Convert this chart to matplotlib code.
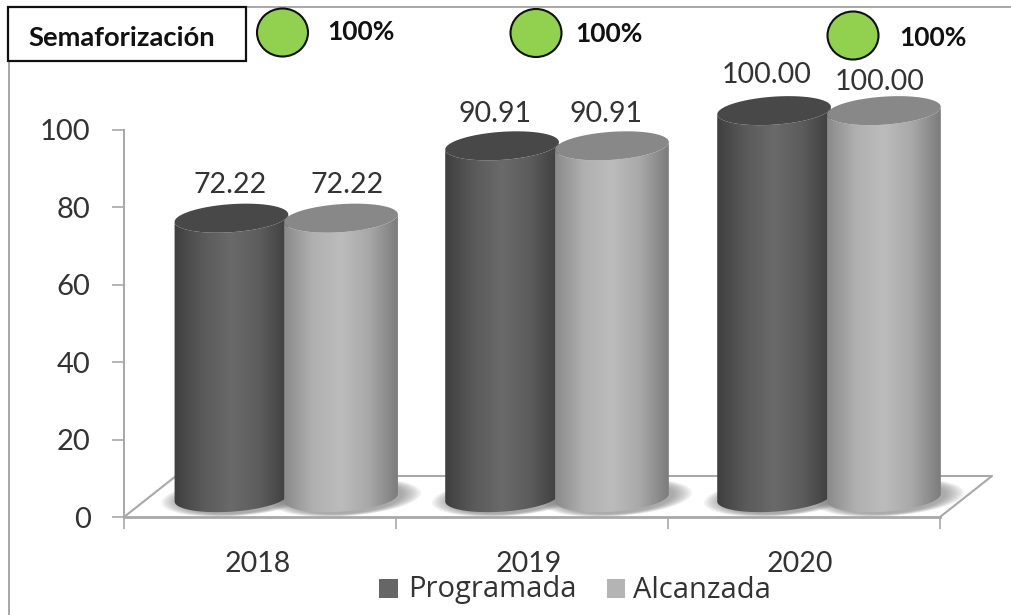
import numpy as np
import matplotlib
matplotlib.use("Agg")
import matplotlib.pyplot as plt
from matplotlib.patches import Ellipse, PathPatch, Rectangle
from matplotlib.path import Path
from matplotlib.transforms import ScaledTranslation, Affine2D
from matplotlib.colors import LinearSegmentedColormap

years = ["2018", "2019", "2020"]
series_names = ["Programada", "Alcanzada"]
programada = [72.22, 90.91, 100.00]
alcanzada = [72.22, 90.91, 100.00]
semaforo = ["100%", "100%", "100%"]
y_ticks = [0, 20, 40, 60, 80, 100]

W, H, DPI = 1011, 615, 100
fig = plt.figure(figsize=(W / DPI, H / DPI), dpi=DPI, facecolor="white")
plt.rcParams["font.family"] = ["Lato", "DejaVu Sans"]

L, R, T, B = 124, 940, 130, 517
ax = fig.add_axes([L / W, 1 - B / H, (R - L) / W, (B - T) / H])
ax.set_xlim(0, 3)
ax.set_ylim(0, 100)
ax.patch.set_alpha(0)
for s in ("top", "right"):
    ax.spines[s].set_visible(False)
ax.spines["left"].set_color("#a8a8a8")
ax.spines["left"].set_linewidth(1.4)
ax.spines["bottom"].set_color("#a8a8a8")
ax.spines["bottom"].set_linewidth(2)
ax.set_yticks(y_ticks)
ax.set_xticks([0, 1, 2, 3])
ax.set_xticklabels([])
ax.tick_params(axis="y", length=8.6, width=1.1, color="#a0a0a0", labelsize=21,
               labelcolor="#333333", pad=15.5)
ax.tick_params(axis="x", length=8.6, width=1.1, color="#a0a0a0")

# full-figure pixel overlay for decoration
ov = fig.add_axes([0, 0, 1, 1], zorder=-1)
ov.set_xlim(0, W)
ov.set_ylim(H, 0)
ov.axis("off")
ov.plot([8.5, 8.5, 1011], [H, 6.5, 6.5], color="#a0a0a0", lw=1.3)
ov.plot([124, 176, 992, 940], [517, 476, 476, 517], color="#a8a8a8", lw=1.5)

top = fig.add_axes([0, 0, 1, 1], zorder=5)
top.set_xlim(0, W)
top.set_ylim(H, 0)
top.axis("off")
top.add_patch(Rectangle((8, 7), 238, 53.5, fc="white", ec="#101010", lw=1.6))
top.text(28, 37.5, "Semaforización", fontsize=19.7, fontweight="bold", color="#111111",
         va="center", ha="left")
for cx, cy, tx, ty, lab in zip([282.5, 536, 853], [32.5, 33, 35.5], [327, 575, 899], [31.5, 34.5, 38.5], semaforo):
    top.add_patch(Ellipse((cx, cy), 51, 48, fc="#92d050", ec="#101010", lw=1.5))
    top.text(tx, ty, lab, fontsize=19, fontweight="bold", color="#111111", va="center", ha="left")

dark = LinearSegmentedColormap.from_list("d", ["#3f3f3f", "#5a5a5a", "#6a6a6a", "#5c5c5c", "#3e3e3e"])
light = LinearSegmentedColormap.from_list("l", ["#8a8a8a", "#b0b0b0", "#bcbcbc", "#a8a8a8", "#7c7c7c"])

RX, RY, TILT = 57.0, 14.0, 4.0   # cylinder cross-section in px
BASE = 5.0


def tr(xd, yd):
    return Affine2D().scale(1 / DPI) + fig.dpi_scale_trans + ScaledTranslation(xd, yd, ax.transData)


def ellipse_xy(th):
    t = np.deg2rad(TILT)
    x = RX * np.cos(th)
    y = RY * np.sin(th)
    return x * np.cos(t) - y * np.sin(t), x * np.sin(t) + y * np.cos(t)


def cylinder(xc, value, cmap, top_color, z):
    y_top = BASE + value
    y_bot = BASE
    h_px = value * (B - T) / 100.0
    # soft floor shadow built from stacked translucent ellipses
    for k in np.linspace(1.32, 1.0, 9):
        ax.add_patch(Ellipse((5, 0), 2 * RX * k, 2 * RY * (0.65 + 0.5 * k), angle=TILT, fc="#6e6e6e", ec="none",
                             alpha=0.085, transform=tr(xc, y_bot), zorder=1, clip_on=False))
    th_low = np.linspace(np.pi, 2 * np.pi, 60)
    xl, yl = ellipse_xy(th_low)
    xu, yu = ellipse_xy(th_low[::-1])
    xs = np.r_[xl, xu]
    ys = np.r_[yl, yu + h_px]
    clip = PathPatch(Path(np.c_[xs, ys]), transform=tr(xc, y_bot), fc="none", ec="none")
    ax.add_patch(clip)
    half = RX / ((R - L) / 3.0)
    im = ax.imshow(np.linspace(0, 1, 128)[None, :], cmap=cmap, aspect="auto", zorder=z,
                   extent=(xc - half, xc + half, 0, y_top + 8))
    im.set_clip_box(fig.bbox)
    im.set_clip_path(clip)
    xt, yt = ellipse_xy(np.linspace(0, 2 * np.pi, 80))
    ax.add_patch(PathPatch(Path(np.c_[xt, yt]), transform=tr(xc, y_top), fc=top_color, ec="none",
                           zorder=z + 0.1, clip_on=False))


centers_dark = [0.395, 1.390, 2.390]
centers_light = [0.798, 1.794, 2.794]
label_dark = [(230, 185), (495, 114), (767, 75)]
label_light = [(347, 185), (606, 114), (880, 82)]
for i, (p, a) in enumerate(zip(programada, alcanzada)):
    cylinder(centers_dark[i], p, dark, "#484848", 3 + 2 * i)
    cylinder(centers_light[i], a, light, "#888888", 4 + 2 * i)
    top.text(*label_dark[i], f"{p:.2f}", fontsize=20.5, color="#333333", ha="center", va="center")
    top.text(*label_light[i], f"{a:.2f}", fontsize=20.5, color="#333333", ha="center", va="center")

ax.set_xlim(0, 3)
ax.set_ylim(0, 100)

for year, x in zip(years, [258, 529, 800]):
    top.text(x, 564, year, fontsize=20.5, color="#333333", ha="center", va="center")

top.add_patch(Rectangle((379, 579), 19, 19, fc="#666666", ec="none"))
top.add_patch(Rectangle((607, 579), 18, 19, fc="#b4b4b4", ec="none"))
top.text(408, 590, series_names[0], fontsize=21, color="#333333", ha="left", va="center",
         family=["Open Sans", "DejaVu Sans"])
top.text(633, 590, series_names[1], fontsize=21, color="#333333", ha="left", va="center",
         family=["Open Sans", "DejaVu Sans"])

fig.savefig("out.png", dpi=DPI)
